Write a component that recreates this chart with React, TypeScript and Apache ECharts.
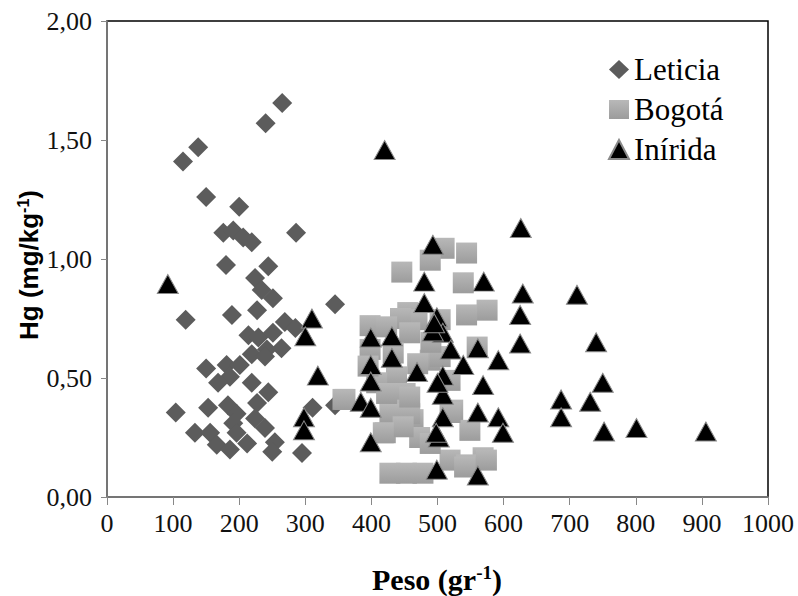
import React, { useEffect, useRef } from "react";
import * as echarts from "echarts";

const xTicks = [0, 100, 200, 300, 400, 500, 600, 700, 800, 900, 1000];
const yTicks = [0, 0.5, 1, 1.5, 2];

const leticia: [number, number][] = [
  [265, 1.655], [240, 1.57], [138, 1.47], [115, 1.41], [150, 1.26], [200, 1.22], [286, 1.11], [176, 1.11],
  [191, 1.12], [206, 1.09], [219, 1.07], [180, 0.975], [244, 0.97], [224, 0.92], [234, 0.87], [251, 0.835],
  [227, 0.785], [345, 0.81], [119, 0.745], [189, 0.765], [214, 0.68], [229, 0.67], [251, 0.69], [269, 0.735],
  [285, 0.71], [242, 0.62], [264, 0.625], [219, 0.6], [239, 0.59], [150, 0.54], [181, 0.555], [201, 0.555],
  [186, 0.505], [168, 0.48], [219, 0.48], [244, 0.44], [227, 0.395], [311, 0.375], [345, 0.385], [104, 0.355],
  [153, 0.375], [183, 0.385], [196, 0.35], [224, 0.33], [239, 0.29], [191, 0.31], [196, 0.27], [133, 0.27],
  [156, 0.27], [166, 0.22], [186, 0.2], [212, 0.225], [254, 0.23], [250, 0.19], [295, 0.185],
];

const bogota: [number, number][] = [
  [510, 1.045], [544, 1.025], [489, 0.995], [446, 0.945], [539, 0.9], [575, 0.785], [544, 0.765], [455, 0.775],
  [504, 0.745], [398, 0.72], [469, 0.745], [444, 0.75], [560, 0.63], [398, 0.62], [423, 0.715], [489, 0.575],
  [519, 0.49], [438, 0.505], [408, 0.48], [360, 0.41], [451, 0.435], [442, 0.365], [523, 0.365], [463, 0.325],
  [421, 0.27], [443, 0.31], [549, 0.28], [473, 0.25], [519, 0.155], [569, 0.165], [544, 0.135], [428, 0.1],
  [453, 0.1], [478, 0.1], [357, 0.41], [458, 0.35], [428, 0.35], [458, 0.42], [423, 0.435], [519, 0.355],
  [489, 0.225], [448, 0.295], [541, 0.126], [574, 0.155], [418, 0.27], [458, 0.69], [433, 0.605], [504, 0.59],
  [395, 0.55], [470, 0.56], [490, 0.65],
];

const inirida: [number, number][] = [
  [92, 0.895], [310, 0.75], [300, 0.675], [319, 0.51], [298, 0.335], [298, 0.28], [420, 1.458], [626, 1.13],
  [493, 1.06], [480, 0.905], [570, 0.905], [629, 0.855], [711, 0.85], [480, 0.815], [625, 0.765], [499, 0.755],
  [508, 0.69], [493, 0.695], [625, 0.645], [399, 0.67], [431, 0.675], [520, 0.62], [561, 0.625], [592, 0.575],
  [431, 0.585], [399, 0.555], [539, 0.555], [469, 0.525], [508, 0.51], [399, 0.485], [569, 0.47], [508, 0.43],
  [384, 0.4], [399, 0.375], [687, 0.41], [687, 0.335], [508, 0.335], [561, 0.355], [592, 0.335], [599, 0.27],
  [502, 0.25], [399, 0.23], [499, 0.115], [561, 0.09], [740, 0.65], [750, 0.48], [731, 0.4], [752, 0.275],
  [801, 0.29], [906, 0.275], [495, 0.73], [500, 0.48], [498, 0.27],
];

const serif = "Liberation Serif";
const sans = "Liberation Sans";

export default function App() {
  const ref = useRef<HTMLDivElement>(null);
  useEffect(() => {
    if (!ref.current) return;
    const chart = echarts.init(ref.current, null, { renderer: "svg" });
    const tickRich = { t: { fontFamily: serif, fontSize: 26, color: "#111" } };
    chart.setOption({
      animation: false,
      backgroundColor: "#fff",
      textStyle: { fontFamily: serif },
      grid: {
        left: 107, right: 30, top: 21, bottom: 99,
        show: true, borderColor: "#000", borderWidth: 1.5,
      },
      legend: {
        orient: "vertical",
        left: 603,
        top: 49,
        itemGap: 9,
        itemWidth: 20,
        itemHeight: 19,
        textStyle: { fontFamily: serif, fontSize: 31, color: "#000" },
        data: ["Leticia", "Bogotá", "Inírida"],
      },
      xAxis: {
        type: "value",
        min: xTicks[0],
        max: xTicks[xTicks.length - 1],
        interval: 100,
        axisLine: { show: true, lineStyle: { color: "#888", width: 1.5 } },
        axisTick: { show: true, length: 8, lineStyle: { color: "#888" } },
        splitLine: { show: false },
        axisLabel: {
          margin: 13,
          formatter: (v: number) => `{t|${v}}`,
          rich: tickRich,
        },
      },
      yAxis: {
        type: "value",
        min: yTicks[0],
        max: yTicks[yTicks.length - 1],
        interval: 0.5,
        axisLine: { show: true, lineStyle: { color: "#888", width: 1.5 } },
        axisTick: { show: true, length: 6, lineStyle: { color: "#888" } },
        splitLine: { show: false },
        axisLabel: {
          margin: 15,
          formatter: (v: number) => `{t|${v.toFixed(2).replace(".", ",")}}`,
          rich: tickRich,
        },
      },
      graphic: [
        {
          type: "text",
          x: 437,
          y: 579,
          style: {
            text: "{a|Peso (gr}{s|-1}{a|)}",
            align: "center",
            verticalAlign: "middle",
            rich: {
              a: { fontFamily: serif, fontSize: 30, fontWeight: "bold", fill: "#000", lineHeight: 32 },
              s: { fontFamily: serif, fontSize: 19, fontWeight: "bold", fill: "#000", verticalAlign: "top", lineHeight: 32, padding: [0, 0, 12, 0] },
            },
          },
        },
        {
          type: "text",
          x: 29,
          y: 265,
          rotation: Math.PI / 2,
          style: {
            text: "{a|Hg (mg/kg}{s|-1}{a|)}",
            align: "center",
            verticalAlign: "middle",
            rich: {
              a: { fontFamily: sans, fontSize: 26, fontWeight: "bold", fill: "#000", lineHeight: 28 },
              s: { fontFamily: sans, fontSize: 16, fontWeight: "bold", fill: "#000", verticalAlign: "top", lineHeight: 28, padding: [0, 0, 10, 0] },
            },
          },
        },
      ],
      series: [
        {
          name: "Leticia",
          type: "scatter",
          symbol: "diamond",
          symbolSize: 20,
          itemStyle: { color: "#5c5c5c", opacity: 1 },
          data: leticia,
        },
        {
          name: "Bogotá",
          type: "scatter",
          symbol: "rect",
          symbolSize: 21,
          itemStyle: {
            color: new echarts.graphic.LinearGradient(0, 0, 0, 1, [
              { offset: 0, color: "#b8b8b8" },
              { offset: 1, color: "#9c9c9c" },
            ]),
            opacity: 1,
          },
          data: bogota,
        },
        {
          name: "Inírida",
          type: "scatter",
          symbol: "triangle",
          symbolSize: [21, 19],
          itemStyle: { color: "#000", borderColor: "#8a8a8a", borderWidth: 1, opacity: 1 },
          data: inirida,
        },
      ],
    });
    return () => chart.dispose();
  }, []);
  return (
    <div
      ref={ref}
      style={{ position: "fixed", left: 0, top: 0, width: 798, height: 596, background: "#fff" }}
    />
  );
}
